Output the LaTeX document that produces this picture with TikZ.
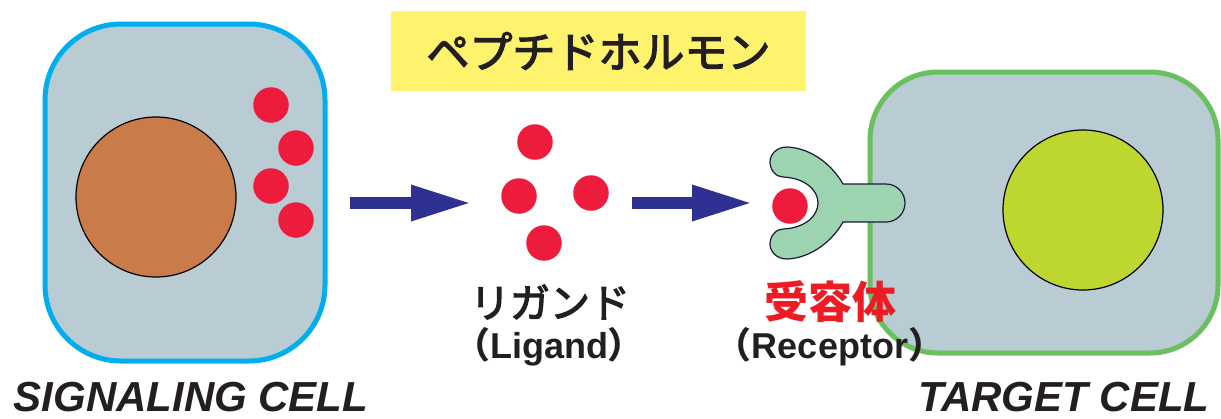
\documentclass[tikz,border=0pt]{standalone}
\usepackage{fontspec}
\setmainfont{Liberation Sans}
\newfontfamily\jp{Noto Sans CJK JP}
\newfontfamily\jpmid[FakeBold=3]{Noto Sans CJK JP}
\usepackage{xcolor}
\usepackage{tikz}
\usetikzlibrary{arrows.meta,positioning}
\definecolor{CellFill}{HTML}{B9CBD3}
\definecolor{SignalBorder}{HTML}{00AEEF}
\definecolor{TargetBorder}{HTML}{6ABF5E}
\definecolor{SignalCore}{HTML}{C97B4A}
\definecolor{TargetCore}{HTML}{BDD630}
\definecolor{LigandRed}{HTML}{EE1C3C}
\definecolor{ArrowInk}{HTML}{2E3192}
\definecolor{ReceptorFill}{HTML}{9DD4B0}
\definecolor{ReceptorInk}{HTML}{1A1A3A}
\definecolor{BannerFill}{HTML}{FFF36E}
\definecolor{LabelInk}{HTML}{231F20}
\definecolor{LabelRed}{HTML}{ED1C24}
\newcommand{\Paren}[1]{{\jp（}#1{\jp）}}
\tikzset{
  figure/.style={x=1pt,y=-1pt,text=LabelInk},
  cell/.style={rectangle,fill=CellFill,line width=5pt,inner sep=0pt},
  core/.style={circle,draw=black,line width=1.2pt,inner sep=0pt,minimum size=160pt},
  ligand/.style={circle,fill=LigandRed,inner sep=0pt,minimum size=35.5pt},
  flow/.style={-{Triangle[length=61pt,width=33pt]},line width=12pt,draw=ArrowInk},
  receptor/.style={fill=ReceptorFill,draw=ReceptorInk,line width=1.2pt},
  english/.style={font=\bfseries\fontsize{36}{40}\selectfont,inner sep=0pt},
  celltitle/.style={font=\fontsize{42}{46}\selectfont\bfseries\itshape,anchor=base,
    inner sep=0pt,text depth=0pt},
}

\begin{document}
\begin{tikzpicture}[figure]
  \useasboundingbox (0,0) rectangle (1221,418);

  % signaling cell with its stored hormone
  \node[cell,draw=SignalBorder,rounded corners=76pt,minimum width=280pt,minimum height=337pt]
    (Signal) at (185,192.5) {};
  \node[core,fill=SignalCore] (SignalCore) at (156,197) {};
  \node[ligand] (S1) at (271,105) {};
  \node[ligand] (S2) at (296,148) {};
  \node[ligand] (S3) at (271,186) {};
  \node[ligand] (S4) at (296,220) {};

  % target cell
  \node[cell,draw=TargetBorder,rounded corners=68pt,minimum width=348pt,minimum height=281pt]
    (Target) at (1044,212.5) {};
  \node[core,fill=TargetCore] (TargetCore) at (1083,210) {};

  % released ligands
  \node[ligand] (L1) at (535,142) {};
  \node[ligand] (L2) at (519,196) {};
  \node[ligand] (L3) at (591,193) {};
  \node[ligand] (L4) at (544,243) {};

  % receptor on the membrane, holding one ligand
  \draw[receptor] (843,184) -- (886,184)
    .. controls (896.5,184) and (905,192.5) .. (905,203)
    .. controls (905,213.5) and (896.5,222) .. (886,222) -- (843,222)
    .. controls (833,240) and (812,258) .. (787,259)
    .. controls (777,259) and (770,252) .. (770,244)
    .. controls (770,236) and (776,229) .. (783,229)
    .. controls (805,228) and (818,216) .. (818,203)
    .. controls (818,190) and (805,178) .. (783,177)
    .. controls (776,177) and (770,170) .. (770,162)
    .. controls (770,154) and (777,147) .. (787,147)
    .. controls (812,148) and (833,166) .. (843,184) -- cycle;
  \node[ligand] (Bound) at (790,206) {};

  % arrows
  \coordinate (SigOut) at (350,203);
  \coordinate (LigIn) at (472,203);
  \coordinate (LigOut) at (632,203);
  \coordinate (RecIn) at (753,203);
  \draw[flow] (SigOut) -- (LigIn);
  \draw[flow] (LigOut) -- (RecIn);

  % labels
  \node[fill=BannerFill,minimum width=415pt,minimum height=80pt,inner sep=0pt]
    (Banner) at (598.5,51) {\jpmid\fontsize{43}{46}\selectfont ペプチドホルモン};
  \node[font=\jpmid\fontsize{40}{44}\selectfont] (LigandJp) at (550,302) {リガンド};
  \node[english] (LigandEn) at (549,347) {\Paren{Ligand}};
  \node[font=\jp\bfseries\fontsize{44}{48}\selectfont,text=LabelRed] (ReceptorJp) at (830,302) {受容体};
  \node[english] (ReceptorEn) at (830,347) {\Paren{Receptor}};
  \node[celltitle] (SignalName) at (191,411) {SIGNALING CELL};
  \node[celltitle] (TargetName) at (1064,411) {TARGET CELL};
\end{tikzpicture}
\end{document}
